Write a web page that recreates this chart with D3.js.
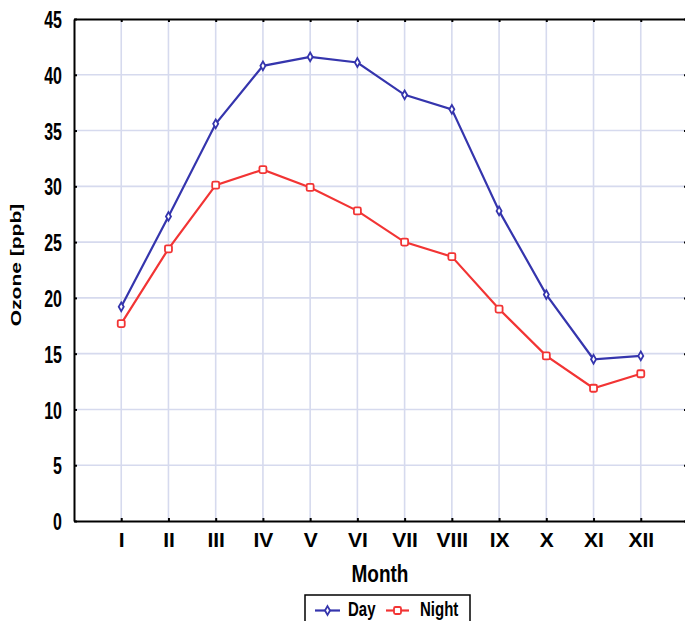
<!DOCTYPE html>
<html>
<head>
<meta charset="utf-8">
<script src="https://cdn.jsdelivr.net/npm/d3@7"></script>
<style>
html,body{margin:0;padding:0;background:#fff;}
svg{display:block;}
text{font-family:"Liberation Sans",Arial,sans-serif;font-weight:bold;fill:#000;}
</style>
</head>
<body>
<script>
const months = ["I","II","III","IV","V","VI","VII","VIII","IX","X","XI","XII"];
const dayValues = [19.2,27.3,35.6,40.8,41.6,41.1,38.2,36.9,27.8,20.3,14.5,14.8];
const nightValues = [17.7,24.4,30.1,31.5,29.9,27.8,25.0,23.7,19.0,14.8,11.9,13.2];
const yTicks = [0,5,10,15,20,25,30,35,40,45];
const seriesNames = ["Day","Night"];
const seriesColors = ["#3535ad","#f23434"];

(function(){
const W = 685, H = 621;
const svg = d3.select("body").append("svg").attr("width", W).attr("height", H);

const pL = 74, pR = 688, pT = 19, pB = 521;
const x = d3.scalePoint().domain(months).range([pL, pR]).padding(1);
const y = d3.scaleLinear().domain([0,45]).range([pB, pT]);

// grid
const grid = svg.append("g");
grid.selectAll("line.v").data(months).join("line")
  .attr("x1", d => x(d)).attr("x2", d => x(d))
  .attr("y1", pT).attr("y2", pB)
  .attr("stroke", "#d6daee").attr("stroke-width", 1.6);
grid.selectAll("line.h").data(yTicks.filter(t => t > 0 && t < 45)).join("line")
  .attr("x1", pL).attr("x2", pR)
  .attr("y1", d => y(d)).attr("y2", d => y(d))
  .attr("stroke", "#d6daee").attr("stroke-width", 1.6);

// axes
const yAxis = svg.append("g").attr("transform", `translate(${pL},0)`)
  .call(d3.axisLeft(y).tickValues(yTicks).tickSizeInner(-3).tickSizeOuter(0).tickPadding(12));
yAxis.select(".domain").attr("stroke", "#000").attr("stroke-width", 2);
yAxis.selectAll(".tick line").attr("stroke", "#000").attr("stroke-width", 2);
yAxis.selectAll(".tick text").attr("font-size", 16).attr("font-family", '"Liberation Sans",Arial,sans-serif')
  .attr("font-weight", "bold").attr("transform", "scale(1,1.5)").attr("dy", "0.36em");

const xAxis = svg.append("g").attr("transform", `translate(0,${pB})`)
  .call(d3.axisBottom(x).tickSizeInner(-3).tickSizeOuter(0).tickPadding(11));
xAxis.select(".domain").attr("stroke", "#000").attr("stroke-width", 2);
xAxis.selectAll(".tick line").attr("stroke", "#000").attr("stroke-width", 2);
xAxis.selectAll(".tick text").attr("font-size", 21).attr("font-family", '"Liberation Sans",Arial,sans-serif')
  .attr("font-weight", "bold");

const topAxis = svg.append("g").attr("transform", `translate(0,${pT})`)
  .call(d3.axisTop(x).tickSizeInner(-3).tickSizeOuter(0).tickFormat(""));
topAxis.select(".domain").attr("stroke", "#000").attr("stroke-width", 2);
topAxis.selectAll(".tick line").attr("stroke", "#000").attr("stroke-width", 2);

const rightAxis = svg.append("g").attr("transform", `translate(${pR},0)`)
  .call(d3.axisRight(y).tickValues(yTicks).tickSizeInner(-4).tickSizeOuter(0).tickFormat(""));
rightAxis.select(".domain").attr("stroke", "#000").attr("stroke-width", 2);
rightAxis.selectAll(".tick line").attr("stroke", "#000").attr("stroke-width", 2);

// titles
svg.append("text").attr("transform", "translate(380,582) scale(1,1.25)")
  .attr("text-anchor", "middle").attr("font-size", 19).text("Month");
svg.append("text").attr("transform", "translate(21,265) rotate(-90) scale(1.4,1)")
  .attr("text-anchor", "middle").attr("font-size", 15).text("Ozone [ppb]");

// lines
const line = d3.line().x((d,i) => x(months[i])).y(d => y(d));
const series = [dayValues, nightValues];
series.forEach((vals, s) => {
  svg.append("path").datum(vals).attr("d", line)
    .attr("fill", "none").attr("stroke", seriesColors[s]).attr("stroke-width", 2.2);
});

function drawMarker(g, cx, cy, s) {
  if (s === 0) {
    g.append("path")
      .attr("d", d3.symbol().type(d3.symbolDiamond).size(22)())
      .attr("transform", `translate(${cx},${cy})`)
      .attr("fill", "#fff").attr("stroke", seriesColors[0]).attr("stroke-width", 1.8);
  } else {
    g.append("rect").attr("x", cx - 3.5).attr("y", cy - 3.5).attr("width", 7).attr("height", 7)
      .attr("rx", 1.5).attr("fill", "#fff").attr("stroke", seriesColors[1]).attr("stroke-width", 1.8);
  }
}
const mg = svg.append("g");
series.forEach((vals, s) => {
  vals.forEach((v, i) => drawMarker(mg, x(months[i]), y(v), s));
});

// legend
const lg = svg.append("g");
lg.append("rect").attr("x", 305).attr("y", 595).attr("width", 165).attr("height", 40)
  .attr("fill", "#fff").attr("stroke", "#000").attr("stroke-width", 1.5);
const legendItems = [
  {x1: 315, x2: 340, tx: 348},
  {x1: 386, x2: 409, tx: 420}
];
legendItems.forEach((it, s) => {
  lg.append("line").attr("x1", it.x1).attr("x2", it.x2).attr("y1", 610.5).attr("y2", 610.5)
    .attr("stroke", seriesColors[s]).attr("stroke-width", 2.2);
  drawMarker(lg, (it.x1 + it.x2) / 2, 610.5, s);
  lg.append("text").attr("transform", `translate(${it.tx},615.5) scale(1,1.4)`)
    .attr("font-size", 15).text(seriesNames[s]);
});
})();
</script>
</body>
</html>
